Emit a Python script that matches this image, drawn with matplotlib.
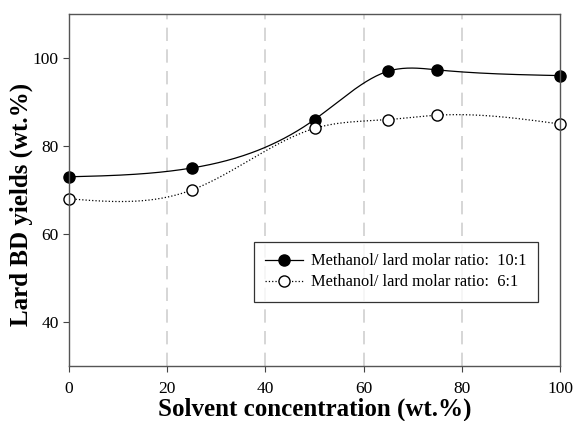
import numpy as np
import matplotlib
matplotlib.use('Agg')
import matplotlib.pyplot as plt

# data
solvent = [0, 25, 50, 65, 75, 100]
yield_10 = [73, 75, 86, 97, 97.3, 96]
yield_6 = [68, 70, 84, 86, 87, 85]
labels = ['Methanol/ lard molar ratio:  10:1', 'Methanol/ lard molar ratio:  6:1']


def natural_spline(x, y, n=300):
    # plain natural cubic spline, like the smooth curves in SigmaPlot
    x = np.asarray(x, float)
    y = np.asarray(y, float)
    k = len(x)
    h = np.diff(x)
    A = np.zeros((k, k))
    b = np.zeros(k)
    A[0, 0] = 1
    A[-1, -1] = 1
    for i in range(1, k-1):
        A[i, i-1] = h[i-1]
        A[i, i] = 2*(h[i-1]+h[i])
        A[i, i+1] = h[i]
        b[i] = 6*((y[i+1]-y[i])/h[i] - (y[i]-y[i-1])/h[i-1])
    M = np.linalg.solve(A, b)
    xs = np.linspace(x[0], x[-1], n)
    ys = np.zeros(n)
    for j, xv in enumerate(xs):
        i = min(np.searchsorted(x, xv, side='right')-1, k-2)
        t1 = x[i+1]-xv
        t0 = xv-x[i]
        ys[j] = (M[i]*t1**3 + M[i+1]*t0**3)/(6*h[i]) \
            + (y[i]/h[i] - M[i]*h[i]/6)*t1 + (y[i+1]/h[i] - M[i+1]*h[i]/6)*t0
    return xs, ys


plt.rcParams['font.family'] = ['Liberation Serif', 'DejaVu Serif']

fig = plt.figure(figsize=(5.74, 4.21), dpi=100)
ax = fig.add_axes([69/574, 1-366/421, 491/574, 352/421])

for g in [20, 40, 60, 80]:
    ax.axvline(g, color='#d0d0d0', lw=1.2, ls=(0, (8, 5)), zorder=0)

xs, ys = natural_spline(solvent, yield_10)
ax.plot(xs, ys, color='black', lw=0.9)
ax.plot(solvent, yield_10, 'o', color='black', ms=8, clip_on=False)

xs, ys = natural_spline(solvent, yield_6)
ax.plot(xs, ys, color='black', lw=0.9, ls=':')
ax.plot(solvent, yield_6, 'o', mfc='white', mec='black', mew=1, ms=8, clip_on=False)

# legend handles
h1, = ax.plot([], [], '-o', color='black', lw=0.9, ms=8)
h2, = ax.plot([], [], ':o', color='black', mfc='white', mec='black', lw=0.9, ms=8)
leg = ax.legend([h1, h2], labels, loc='upper left', bbox_to_anchor=(185/491, (366-242)/352),
                fontsize=11.8, frameon=True, fancybox=False, edgecolor='black',
                handlelength=2.3, borderpad=0.7, labelspacing=0.3, handletextpad=0.5,
                borderaxespad=0)
leg.get_frame().set_linewidth(0.9)

ax.set_xlim(0, 100)
ax.set_ylim(30, 110)
ax.set_xticks([0, 20, 40, 60, 80, 100])
ax.set_yticks([40, 60, 80, 100])
ax.tick_params(direction='out', length=4, width=0.8, labelsize=12.5, color='#444444')
ax.tick_params(axis='x', pad=7)
for s in ax.spines.values():
    s.set_color('#555555')
    s.set_linewidth(1)

ax.set_xlabel('Solvent concentration (wt.%)', fontsize=18, fontweight='bold', labelpad=0)
ax.set_ylabel('Lard BD yields (wt.%)', fontsize=18, fontweight='bold')
ax.yaxis.set_label_coords(-0.073, 0.46)

fig.savefig('out.png', dpi=100)
